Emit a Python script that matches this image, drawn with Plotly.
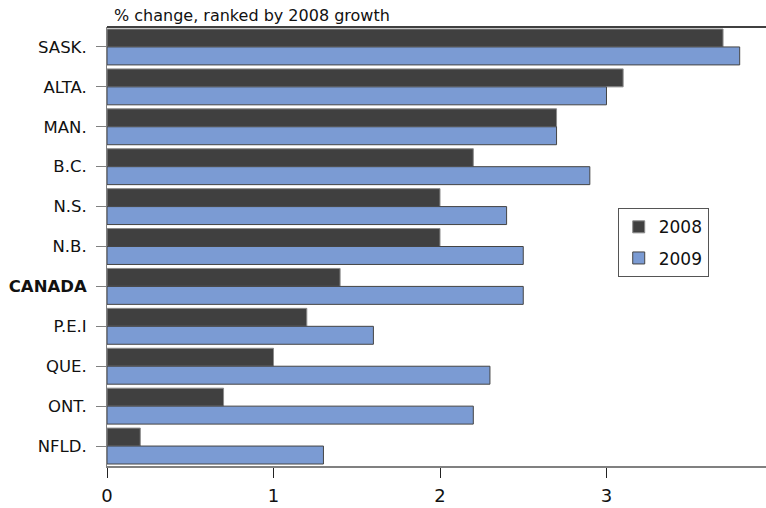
import plotly.graph_objects as go

provinces = ["SASK.", "ALTA.", "MAN.", "B.C.", "N.S.", "N.B.", "CANADA",
             "P.E.I", "QUE.", "ONT.", "NFLD."]
tick_text = ["SASK.", "ALTA.", "MAN.", "B.C.", "N.S.", "N.B.", "<b>CANADA</b>",
             "P.E.I", "QUE.", "ONT.", "NFLD."]
growth_2008 = [3.7, 3.1, 2.7, 2.2, 2.0, 2.0, 1.4, 1.2, 1.0, 0.7, 0.2]
growth_2009 = [3.8, 3.0, 2.7, 2.9, 2.4, 2.5, 2.5, 1.6, 2.3, 2.2, 1.3]

font_family = "DejaVu Sans"

fig = go.Figure()
fig.add_trace(go.Bar(
    y=provinces, x=growth_2008, orientation="h", name="2008",
    legendgroup="a",
    marker=dict(color="#404040", line=dict(color="#8c8c8c", width=1)),
))
fig.add_trace(go.Bar(
    y=provinces, x=growth_2009, orientation="h", name="2009",
    legendgroup="b",
    marker=dict(color="#7b9bd3", line=dict(color="#444444", width=1)),
))

fig.update_layout(
    width=766, height=508,
    margin=dict(l=107, r=0, t=27, b=42),
    paper_bgcolor="white", plot_bgcolor="white",
    barmode="group", bargap=0.1, bargroupgap=0.0,
    font=dict(family=font_family, size=16, color="#111111"),
    showlegend=True,
    legend=dict(
        x=0.775, y=0.587, xanchor="left", yanchor="top",
        bordercolor="#555555", borderwidth=1, bgcolor="white",
        traceorder="grouped", tracegroupgap=6,
        font=dict(size=17),
        itemwidth=30,
    ),
    xaxis=dict(
        range=[0, 3.958], tickvals=[0, 1, 2, 3], showgrid=False,
        zeroline=False, showline=True, linecolor="#808080", linewidth=1.5,
        ticks="outside", ticklen=10, tickcolor="#222222",
        tickfont=dict(size=18), ticklabelstandoff=3,
    ),
    yaxis=dict(
        categoryorder="array", categoryarray=provinces,
        autorange="reversed", tickvals=provinces, ticktext=tick_text,
        showgrid=False, zeroline=False, showline=True, linecolor="#808080",
        linewidth=1, ticks="outside", ticklen=10, tickcolor="#808080",
        tickfont=dict(size=16.5), ticklabelstandoff=6,
    ),
    shapes=[dict(type="line", xref="paper", yref="paper", x0=0, x1=1,
                 y0=1, y1=1, line=dict(color="#000000", width=1.5))],
    annotations=[dict(
        text="% change, ranked by 2008 growth", xref="paper", yref="paper",
        x=0.008, y=1, xanchor="left", yanchor="bottom", showarrow=False,
        font=dict(size=16, family=font_family),
    )],
)

fig.write_html("out.html")
